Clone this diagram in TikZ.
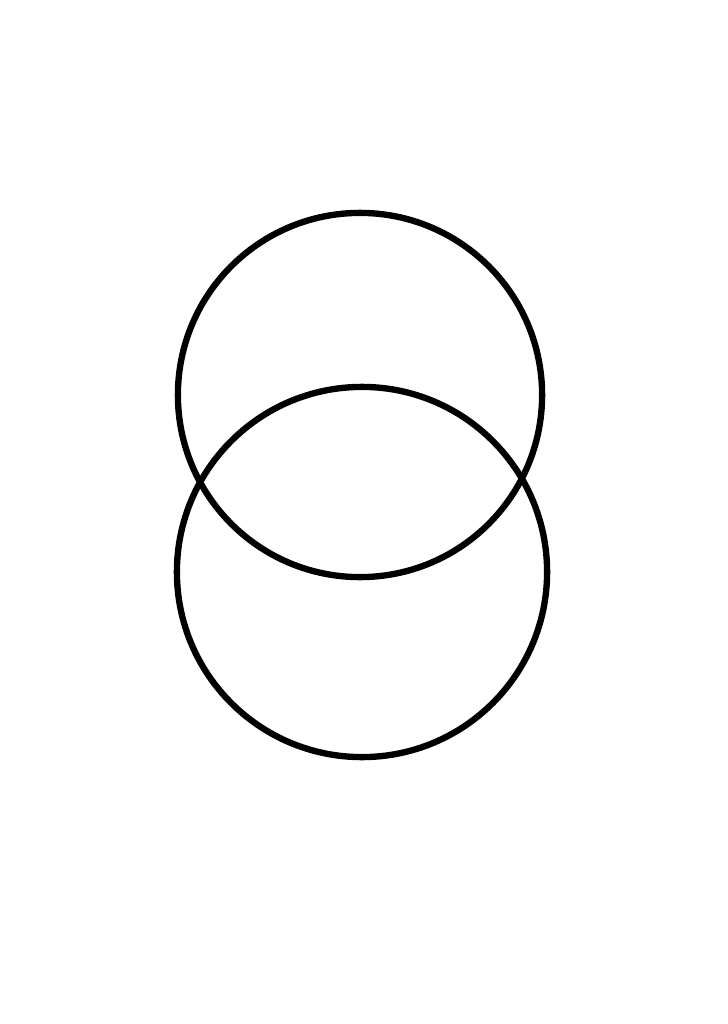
\documentclass[tikz,border=0pt]{standalone}

\begin{document}
\begin{tikzpicture}[
x=0.01cm, y=-0.01cm,
ring/.style = {
	circle,
	draw,
	line width=1.8pt,
	inner sep=0pt
	}
]

\useasboundingbox (0,0) rectangle (728,1024);

% CIRCLES
\node [ring, minimum size=3.64cm] (upper) at (360,395) {};
\node [ring, minimum size=3.70cm] (lower) at (362,572) {};
\end{tikzpicture}
\end{document}
